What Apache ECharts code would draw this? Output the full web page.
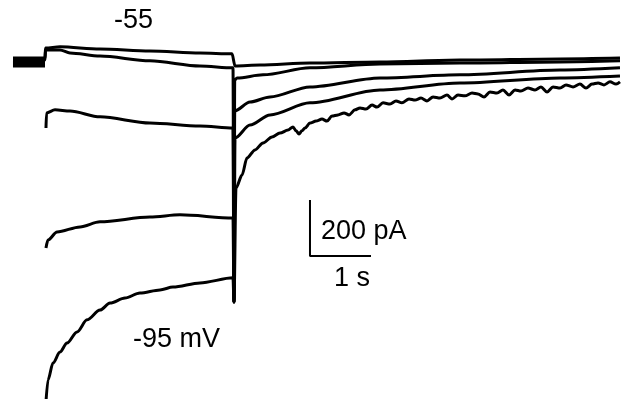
<!DOCTYPE html>
<html>
<head>
<meta charset="utf-8">
<script src="https://cdn.jsdelivr.net/npm/echarts@6/dist/echarts.min.js"></script>
<style>
  html, body { margin: 0; padding: 0; background: #fff; }
  #chart { width: 621px; height: 399px; }
</style>
</head>
<body>
<div id="chart"></div>
<script>
// time in s (0 = step onset), current in pA (0 = holding current)
// '-' marks a gap in the recording trace
const traceNeg55 = [
  [-0.525, 14], [0, 14], [0.008, 50], [0.246, 54], [0.902, 46], [1.721, 39], [2.541, 32], [3.066, 29],
  [3.115, -14], [3.525, -11], [4.344, -4], [5.492, 0], [6.803, 7], [8.443, 11], [9.426, 14]
];
const traceNeg65 = [
  [-0.525, 7], [0, 7], [0.008, 43], [0.246, 43], [0.41, 32], [0.902, 21], [1.721, 4], [2.541, -14], [3.082, -21],
  [3.098, -857],
  [3.110, -64], [3.148, -57], [3.574, -46], [4.344, -21], [5.492, -7], [6.803, -4], [8.443, 0], [9.426, 4]
];
const traceNeg75 = [
  [-0.525, 0], [0, 0], [0.008, '-'],
  [0.016, -236], [0.025, -182], [0.164, -171], [0.41, -175], [0.902, -196], [1.721, -218], [2.541, -229], [3.082, -236],
  [3.098, -857],
  [3.110, -175], [3.361, -143], [3.689, -125], [4.344, -89], [5.492, -57], [6.803, -46], [8.443, -29], [9.426, -21]
];
const traceNeg85 = [
  [-0.525, -7], [0, -7], [0.008, '-'],
  [0.016, -664], [0.049, -636], [0.197, -607], [0.574, -589], [0.902, -571], [1.721, -554], [2.213, -546], [3.082, -557],
  [3.098, -857],
  [3.115, -271], [3.361, -225], [3.689, -189], [4.344, -146], [5.492, -100], [6.803, -75], [8.443, -57], [9.426, -50]
];
const traceNeg95 = [
  [-0.525, -14], [0, -14], [0.003, '-'],
  [0.005, -1250], [0.049, -1136], [0.131, -1075], [0.246, -1036], [0.361, -1004], [0.525, -964], [0.689, -921],
  [0.902, -886], [1.066, -861], [1.311, -843], [1.557, -825], [1.885, -814], [2.098, -804], [2.541, -789], [3.082, -771],
  [3.098, -857],
  [3.131, -450], [3.230, -404], [3.311, -343], [3.443, -314], [3.574, -289], [3.721, -268], [3.852, -254], [3.984, -243],
  [4.066, -232], [4.115, -246], [4.164, -257], [4.213, -246], [4.262, -236], [4.344, -218],
  [4.443, -211], [4.541, -204], [4.623, -211], [4.705, -193], [4.803, -189], [4.902, -182], [4.984, -189], [5.082, -171],
  [5.164, -164], [5.262, -168], [5.361, -154], [5.443, -161], [5.541, -146], [5.656, -150], [5.754, -139], [5.852, -146],
  [5.967, -132], [6.066, -136], [6.164, -129], [6.262, -139], [6.361, -125], [6.475, -129], [6.590, -118], [6.672, -132],
  [6.770, -118], [6.885, -121], [7.000, -111], [7.098, -114], [7.197, -125], [7.295, -107], [7.410, -111], [7.508, -100],
  [7.607, -118], [7.705, -100], [7.803, -104], [7.918, -93], [8.033, -100], [8.131, -89], [8.230, -107], [8.328, -89],
  [8.443, -93], [8.541, -82], [8.656, -89], [8.770, -79], [8.869, -93], [8.967, -79], [9.066, -75], [9.164, -82],
  [9.262, -71], [9.361, -79], [9.426, -71]
];
// scale bar: 1 s by 200 pA
const scaleBar = [[4.344, -493], [4.344, -693], [5.344, -693]];

const traces = [traceNeg55, traceNeg65, traceNeg75, traceNeg85, traceNeg95];

const chart = echarts.init(document.getElementById('chart'));

const traceSeries = traces.map((d, i) => ({
  name: 'trace' + i,
  type: 'line',
  data: d,
  showSymbol: false,
  connectNulls: false,
  smooth: 0.3,
  smoothMonotone: 'x',
  lineStyle: { color: '#000', width: 3 },
  silent: true
}));

const labelFont = '27px "Liberation Sans", Arial, sans-serif';

chart.setOption({
  animation: false,
  backgroundColor: '#fff',
  grid: { left: 0, right: 0, top: 0, bottom: 0 },
  xAxis: { type: 'value', min: -0.7377, max: 9.4426, show: false },
  yAxis: { type: 'value', min: -1203.6, max: 221.4, show: false },
  series: [
    ...traceSeries,
    {
      name: 'scale',
      type: 'line',
      data: scaleBar,
      showSymbol: false,
      lineStyle: { color: '#000', width: 2 },
      silent: true
    }
  ],
  graphic: [
    { type: 'text', x: 114, y: 21, style: { text: '-55', font: labelFont, fill: '#000', textVerticalAlign: 'middle' } },
    { type: 'text', x: 133, y: 340, style: { text: '-95 mV', font: labelFont, fill: '#000', textVerticalAlign: 'middle' } },
    { type: 'text', x: 321, y: 232, style: { text: '200 pA', font: labelFont, fill: '#000', textVerticalAlign: 'middle' } },
    { type: 'text', x: 334, y: 279, style: { text: '1 s', font: labelFont, fill: '#000', textVerticalAlign: 'middle' } }
  ]
});
</script>
</body>
</html>
